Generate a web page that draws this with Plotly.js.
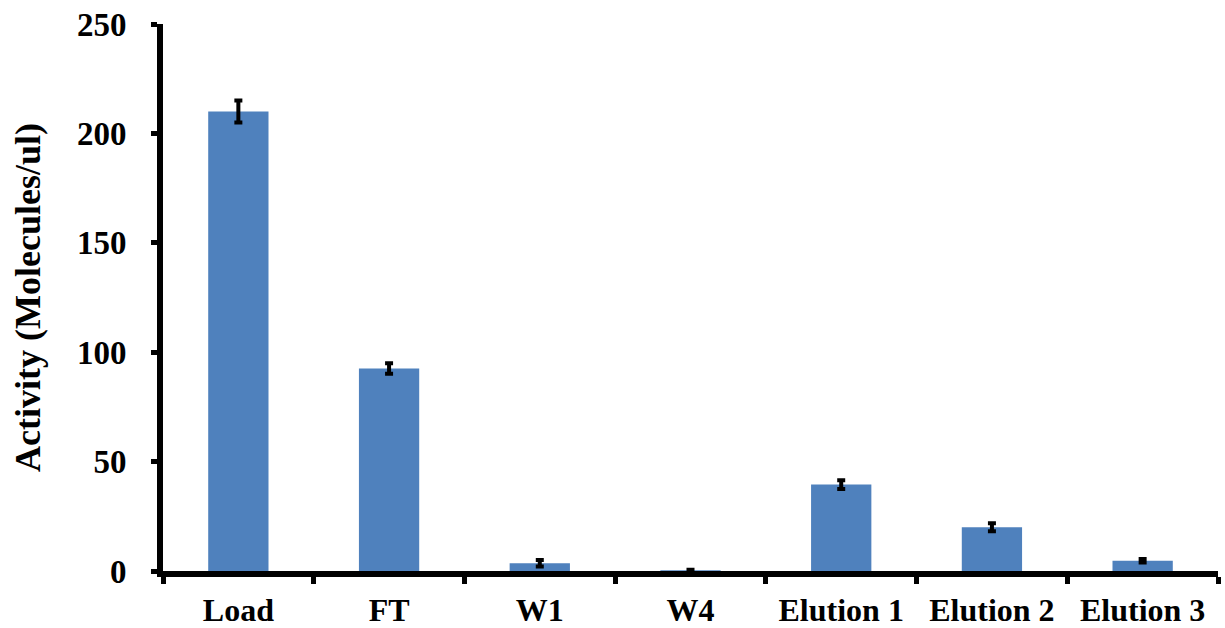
<!DOCTYPE html>
<html>
<head>
<meta charset="utf-8">
<script src="https://cdn.plot.ly/plotly-3.0.1.min.js"></script>
<style>
  html, body { margin: 0; padding: 0; background: #ffffff; }
  #chart { width: 1225px; height: 628px; }
</style>
</head>
<body>
<div id="chart"></div>
<script>
// Purification fractions and their measured activity
const categories = ['Load', 'FT', 'W1', 'W4', 'Elution 1', 'Elution 2', 'Elution 3'];
const activity = [210, 92.5, 3.5, 0.3, 39.5, 20, 4.7];
const activityError = [5, 2.4, 1.5, 0.3, 2, 1.8, 0.8];
const yTickValues = [0, 50, 100, 150, 200, 250];

const fontFamily = 'Liberation Serif, Times New Roman, serif';

const trace = {
  type: 'bar',
  x: categories,
  y: activity,
  width: 0.4,
  marker: { color: '#4F81BD', line: { width: 0 } },
  error_y: {
    type: 'data',
    array: activityError,
    visible: true,
    color: '#000000',
    thickness: 4,
    width: 4
  },
  hoverinfo: 'x+y'
};

const layout = {
  width: 1225,
  height: 628,
  margin: { l: 163, r: 7, t: 24, b: 57 },
  paper_bgcolor: '#ffffff',
  plot_bgcolor: '#ffffff',
  showlegend: false,
  font: { family: fontFamily, color: '#000000' },
  xaxis: {
    type: 'category',
    range: [-0.5, 6.5],
    tickson: 'boundaries',
    ticks: 'outside',
    ticklen: 7,
    tickwidth: 5,
    tickcolor: '#000000',
    showline: true,
    linecolor: '#000000',
    linewidth: 6,
    showgrid: false,
    zeroline: false,
    ticklabelstandoff: 6,
    tickfont: { family: fontFamily, size: 32, color: '#000000', weight: 'bold' }
  },
  yaxis: {
    range: [0, 250],
    tickvals: yTickValues,
    ticktext: yTickValues.map(String),
    ticks: 'outside',
    ticklen: 6,
    tickwidth: 5,
    tickcolor: '#000000',
    showline: true,
    linecolor: '#000000',
    linewidth: 6,
    showgrid: false,
    zeroline: false,
    automargin: false,
    ticklabelstandoff: 18,
    tickfont: { family: fontFamily, size: 33, color: '#000000', weight: 'bold' },
    title: {
      text: 'Activity (Molecules/ul)',
      standoff: 27,
      font: { family: fontFamily, size: 36, color: '#000000', weight: 'bold' }
    }
  }
};

Plotly.newPlot('chart', [trace], layout, { displayModeBar: false, staticPlot: true });
</script>
</body>
</html>
